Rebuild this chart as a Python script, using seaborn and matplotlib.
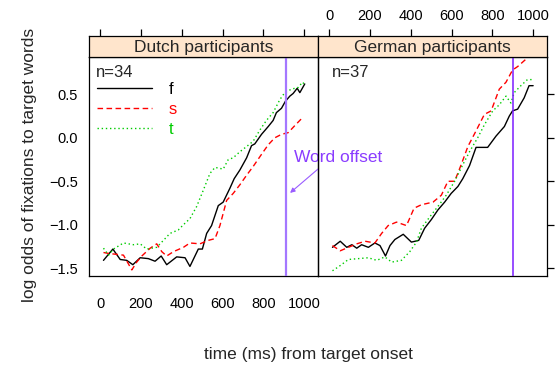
import numpy as np
import pandas as pd
import matplotlib
matplotlib.use("Agg")
import matplotlib.pyplot as plt
import seaborn as sns

# Dutch participants (n=34), log odds of fixations to target words
nl_f_time = [16, 62, 98, 130, 160, 196, 236, 269, 299, 326, 375, 416, 440, 481, 501, 522, 546,
             579, 603, 636, 657, 685, 718, 742, 758, 791, 824, 848, 864, 889, 908, 930, 946,
             966, 979, 1003]
nl_f_val = [-1.41, -1.28, -1.40, -1.41, -1.46, -1.38, -1.39, -1.42, -1.36, -1.46, -1.37, -1.38,
            -1.48, -1.28, -1.28, -1.10, -1.01, -0.78, -0.74, -0.58, -0.47, -0.37, -0.23, -0.09,
            -0.07, 0.04, 0.13, 0.20, 0.29, 0.34, 0.42, 0.48, 0.51, 0.57, 0.52, 0.62]
nl_s_time = [16, 41, 114, 155, 179, 204, 245, 277, 302, 326, 359, 408, 440, 489, 530, 563, 587,
             620, 652, 685, 718, 750, 791, 824, 856, 889, 922, 954, 987]
nl_s_val = [-1.32, -1.33, -1.35, -1.52, -1.43, -1.36, -1.27, -1.22, -1.31, -1.36, -1.31, -1.26,
            -1.21, -1.22, -1.18, -1.16, -1.01, -0.72, -0.64, -0.54, -0.43, -0.33, -0.19, -0.08,
            0.00, 0.04, 0.06, 0.14, 0.22]
nl_t_time = [16, 41, 65, 114, 163, 196, 228, 277, 310, 342, 383, 408, 440, 473, 506, 538, 563,
             603, 628, 652, 685, 718, 750, 783, 815, 848, 881, 905, 938, 971, 992, 1000]
nl_t_val = [-1.27, -1.35, -1.28, -1.21, -1.23, -1.22, -1.28, -1.26, -1.18, -1.10, -1.06, -1.00,
            -0.93, -0.79, -0.60, -0.41, -0.34, -0.36, -0.25, -0.23, -0.16, -0.10, -0.04, 0.09,
            0.20, 0.29, 0.44, 0.52, 0.56, 0.58, 0.64, 0.62]

# German participants (n=37)
de_f_time = [16, 54, 86, 111, 135, 159, 192, 224, 249, 276, 298, 322, 363, 403, 439, 468, 501,
             533, 566, 598, 631, 655, 688, 720, 777, 818, 859, 883, 899, 924, 956, 980, 1000]
de_f_val = [-1.26, -1.19, -1.26, -1.23, -1.27, -1.23, -1.26, -1.21, -1.24, -1.36, -1.24, -1.17,
            -1.11, -1.20, -1.18, -1.04, -0.94, -0.83, -0.74, -0.64, -0.56, -0.47, -0.32, -0.11,
            -0.11, 0.02, 0.13, 0.25, 0.31, 0.33, 0.46, 0.60, 0.60]
de_s_time = [16, 54, 94, 135, 176, 224, 257, 289, 330, 379, 416, 452, 509, 550, 582, 615, 647,
             680, 720, 761, 794, 834, 867, 899, 924, 972]
de_s_val = [-1.24, -1.30, -1.26, -1.22, -1.19, -1.21, -1.10, -1.01, -0.97, -1.01, -0.81, -0.77,
            -0.74, -0.66, -0.50, -0.50, -0.31, -0.10, 0.08, 0.27, 0.31, 0.56, 0.64, 0.78, 0.82,
            0.92]
de_t_time = [16, 54, 94, 143, 192, 233, 273, 306, 354, 395, 428, 452, 493, 533, 574, 615, 655,
             688, 728, 761, 802, 834, 867, 891, 907, 940, 972, 997]
de_t_val = [-1.53, -1.47, -1.40, -1.39, -1.38, -1.41, -1.37, -1.43, -1.41, -1.31, -1.20, -1.04,
            -0.91, -0.79, -0.66, -0.50, -0.31, -0.16, 0.00, 0.15, 0.31, 0.38, 0.48, 0.40, 0.52,
            0.60, 0.67, 0.67]

conditions = ["f", "s", "t"]
panel_titles = ["Dutch participants", "German participants"]
panel_n = ["n=34", "n=37"]
word_offsets = [910, 902]
x_ticks = [0, 200, 400, 600, 800, 1000]
y_ticks = [-1.5, -1.0, -0.5, 0.0, 0.5]

colors = {"f": "black", "s": "#ff0000", "t": "#00cc00"}
dashes = {"f": "", "s": (4, 2.5), "t": (1, 2)}


def long_frame(series):
    parts = []
    for cond, (t, v) in zip(conditions, series):
        parts.append(pd.DataFrame({"time": t, "logodds": v, "cond": cond}))
    return pd.concat(parts, ignore_index=True)


panels = [
    long_frame([(nl_f_time, nl_f_val), (nl_s_time, nl_s_val), (nl_t_time, nl_t_val)]),
    long_frame([(de_f_time, de_f_val), (de_s_time, de_s_val), (de_t_time, de_t_val)]),
]

sns.set_style("white")
plt.rcParams["font.family"] = ["Liberation Sans", "DejaVu Sans"]

W, H = 558, 366
fig = plt.figure(figsize=(W / 100, H / 100), dpi=100, facecolor="white")

xlim = (-55, 1068)
ylim = (-1.59, 0.93)
p_left, p_w = 89 / W, 229 / W
p_bot, p_h = 1 - 276 / H, 219 / H
s_h = 21 / H

axes = []
for i, df in enumerate(panels):
    ax = fig.add_axes([p_left + i * p_w, p_bot, p_w, p_h])
    ax.set_facecolor("none")
    sns.lineplot(data=df, x="time", y="logodds", hue="cond", style="cond",
                 palette=colors, dashes=dashes, estimator=None, sort=False,
                 linewidth=1.0, legend=(i == 0), ax=ax)
    ax.axvline(word_offsets[i], color="#a477ff" if i == 0 else "#7a1cff",
               lw=1.6 if i == 0 else 1.1, zorder=3)
    ax.set_xlim(xlim)
    ax.set_ylim(ylim)
    ax.set_xticks(x_ticks)
    ax.set_yticks(y_ticks)
    ax.set_xlabel("")
    ax.set_ylabel("")
    for sp in ax.spines.values():
        sp.set_color("black")
        sp.set_linewidth(0.9)
    ax.tick_params(axis="x", direction="out", length=5, width=0.9, pad=10,
                   labelsize=10.5, colors="black", labelbottom=(i == 0))
    if i == 0:
        ax.tick_params(axis="y", direction="out", length=5, width=0.9, pad=3,
                       labelsize=10.5, colors="black")
    else:
        ax.yaxis.tick_right()
        ax.tick_params(axis="y", direction="out", length=5, width=0.9,
                       labelright=False, colors="black")
    ax.text(0.03 if i == 0 else 0.06, 0.93, panel_n[i], transform=ax.transAxes,
            ha="left", va="center", fontsize=12)

    # strip with the panel title, x ticks on top
    sax = fig.add_axes([p_left + i * p_w, p_bot + p_h, p_w, s_h])
    sax.set_facecolor("#ffe5cc")
    sax.set_xlim(xlim)
    sax.set_yticks([])
    sax.xaxis.tick_top()
    sax.set_xticks(x_ticks)
    sax.tick_params(axis="x", direction="out", length=5, width=0.9, pad=4,
                    labelsize=10.5, colors="black", labeltop=(i == 1))
    for sp in sax.spines.values():
        sp.set_color("black")
        sp.set_linewidth(0.9)
    sax.text(0.5, 0.45, panel_titles[i], transform=sax.transAxes,
             ha="center", va="center", fontsize=12.5)
    axes.append(ax)

# legend in the Dutch panel
ax0 = axes[0]
handles, labels = ax0.get_legend_handles_labels()
leg = ax0.legend(handles, labels, loc="upper left", bbox_to_anchor=(0.035, 0.885),
                 frameon=False, fontsize=12, handlelength=3.3, handletextpad=1.0,
                 labelspacing=0.3, borderpad=0, borderaxespad=0,
                 labelcolor=[colors[c] for c in labels])

ax0.annotate("Word offset", xy=(931, -0.634), xytext=(951, -0.23),
             textcoords="data", color="#8a3cff", fontsize=12.5, ha="left", va="center",
             annotation_clip=False, zorder=5,
             arrowprops=dict(arrowstyle="-|>", color="#9a5cff", lw=0.8,
                             shrinkA=0, shrinkB=0, relpos=(0.32, 0.0),
                             mutation_scale=7))

fig.text(30 / W, 1 - 165 / H, "log odds of fixations to target words", rotation=90,
         ha="center", va="center", fontsize=12.5)
fig.text(308 / W, 1 - 355 / H, "time (ms) from target onset", ha="center", va="center",
         fontsize=12.5)

fig.savefig("out.png", dpi=100, facecolor="white")
